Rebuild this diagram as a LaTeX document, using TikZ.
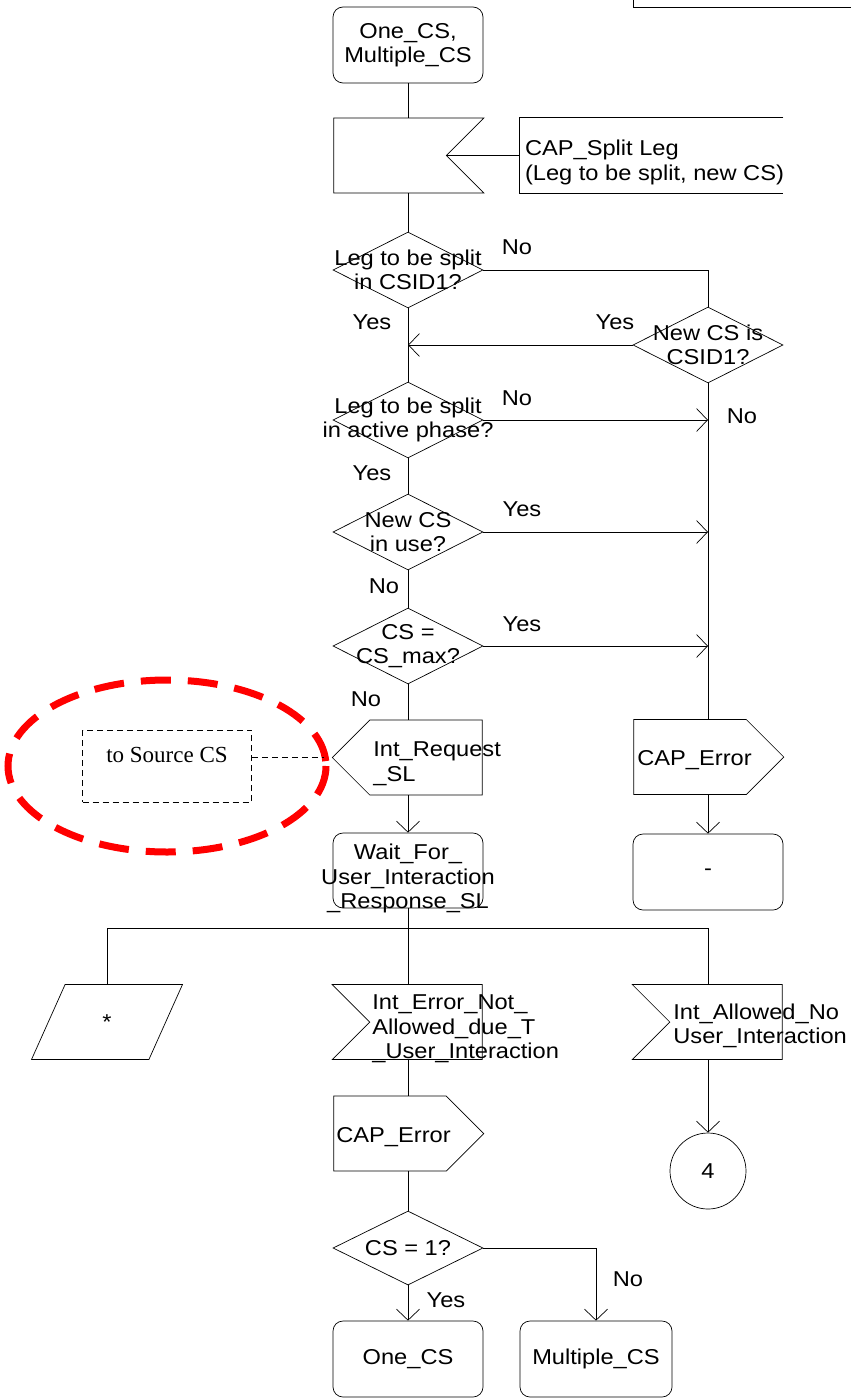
\documentclass[tikz,border=0pt]{standalone}
\usepackage{fontspec}
\setmainfont{Liberation Sans}[FakeStretch=1.1]
\newfontfamily\serifcs{Liberation Serif}
\usetikzlibrary{arrows.meta, positioning, shapes.geometric, shapes.symbols}
\newcommand{\zw}[1]{\makebox[0pt]{#1}}

\begin{document}
\begin{tikzpicture}[x=1pt, y=-1pt, >={Straight Barb[length=11pt, width=23pt]},
  line width=0.7pt,
  every node/.style={font=\fontsize{21.5}{24.5}\selectfont},
  state/.style={rectangle, rounded corners=10pt, draw,
    minimum width=150pt, minimum height=76pt, inner sep=0pt, align=center},
  decision/.style={diamond, draw, minimum width=150pt, minimum height=76pt,
    inner sep=0pt, align=center},
  sigin/.style={signal, draw, signal to=nowhere, signal pointer angle=90,
    minimum width=150pt, minimum height=75pt, inner sep=0pt},
  sigout/.style={signal, draw, signal from=nowhere, signal pointer angle=90,
    minimum width=150pt, minimum height=75pt, inner sep=0pt},
  sigtext/.style={inner sep=0pt, align=left, anchor=west},
  lab/.style={inner sep=0pt, anchor=base},
  dashline/.style={dash pattern=on 6pt off 4pt, line width=0.9pt}]
  \useasboundingbox (0,0) rectangle (851,1399);
  % box cut off at the top
  \draw (633,0) -- (633,7) -- (851,7);
  % Start and split request
  \node[state] (start) at (408,45) {\zw{One\_CS,}\\\zw{Multiple\_CS}};
  \node[sigin, signal from=east] (rcvsplit) at (390,155.5) {};
  \node[inner sep=0pt, minimum width=263pt, minimum height=75pt] (splitbox)
    at (651.5,155.5) {};
  \node[sigtext, xshift=5pt, yshift=-7pt] (splittxt) at (splitbox.west)
    {CAP\_Split Leg\\(Leg to be split, new CS)};
  \draw (splitbox.north east) -- (splitbox.north west)
    -- (splitbox.south west) -- (splitbox.south east);
  % Checks
  \node[decision] (d1) at (408,270) {\zw{Leg to be split}\\\zw{in CSID1?}};
  \node[decision] (d2) at (708,345) {\zw{New CS is}\\\zw{CSID1?}};
  \node[decision] (d3) at (408,420) {\zw{Leg to be split}\\\zw{in active phase?}};
  \node[decision] (d4) at (408,532) {\zw{New CS}\\\zw{in use?}};
  \node[decision] (d5) at (408,646) {\zw{CS =}\\\zw{CS\_max?}};
  % Outputs
  \node[sigout, signal to=west] (intreq) at (426,757.5) {};
  \node[sigtext, xshift=-53pt, yshift=-6pt] (intreqT) at (intreq.center)
    {Int\_Request\\\_SL};
  \node[sigout, signal to=east] (caperr) at (690,757) {};
  \node[sigtext, xshift=-53pt, yshift=-3pt] (caperrT) at (caperr.center) {CAP\_Error};
  \node[draw, dashline, minimum width=169pt, minimum height=72pt, inner sep=0pt,
    text height=17pt, text depth=25pt, font=\serifcs\fontsize{23}{27}\selectfont]
    (srcbox) at (167,766) {to Source CS};
  \draw[red, line width=7pt, dash pattern=on 30pt off 17pt]
    (167,766) ellipse [x radius=159, y radius=86];
  % States
  \node[state, minimum height=75pt] (wait) at (408,870.5) {};
  \node[inner sep=0pt, align=center, yshift=-8pt] (waitT) at (wait.center)
    {\zw{Wait\_For\_}\\\zw{User\_Interaction}\\\zw{\_Response\_SL}};
  \node[state] (dashst) at (708,872) {-};
  % Inputs
  \node[trapezium, trapezium left angle=76, trapezium right angle=104,
    trapezium stretches=true, draw, minimum width=151pt, minimum height=75pt,
    inner sep=0pt] (star) at (107,1022) {*};
  \node[sigin, signal from=west] (interr) at (426,1022) {};
  \node[sigtext, xshift=-54pt, yshift=-7pt] (interrT) at (interr.center)
    {Int\_Error\_Not\_\\Allowed\_due\_T\\\_User\_Interaction};
  \node[sigin, signal from=west] (intallow) at (726,1022) {};
  \node[sigtext, xshift=-53pt, yshift=-4pt] (intallowT) at (intallow.center)
    {Int\_Allowed\_No\\User\_Interaction};
  \node[sigout, signal to=east] (caperr2) at (390,1133.5) {};
  \node[sigtext, xshift=-54pt, yshift=-4pt] (caperr2T) at (caperr2.center) {CAP\_Error};
  \node[decision, minimum height=74pt] (d6) at (408,1248) {\zw{CS = 1?}};
  \node[circle, draw, minimum size=76pt, inner sep=0pt] (conn4) at (708,1171) {4};
  \node[state] (onecs) at (408,1359) {One\_CS};
  \node[state, minimum width=152pt] (multcs) at (596,1359) {\zw{Multiple\_CS}};
  % Connectors
  \draw (start) -- (start |- rcvsplit.north);
  \draw (splitbox) -- (rcvsplit);
  \draw (d1 |- rcvsplit.south) -- (d1);
  \draw (d1.east) -| (d2.north);
  \draw[->] (d2.west) -- (d2.west -| d1.south);
  \draw (d1) -- (d3);
  \draw (d2) -- (d2 |- caperr.north);
  \draw[->] (d3.east) -- (d3.east -| d2.south);
  \draw (d3) -- (d4);
  \draw[->] (d4.east) -- (d4.east -| d2.south);
  \draw (d4) -- (d5);
  \draw[->] (d5.east) -- (d5.east -| d2.south);
  \draw (d5) -- (d5 |- intreq.north);
  \draw[->] (wait |- intreq.south) -- (wait);
  \draw[->] (dashst |- caperr.south) -- (dashst);
  \draw[dashline, shorten >=8pt] (srcbox.east |- intreq.west) -- (intreq.west);
  \coordinate (bus) at (408,928);
  \draw (wait) -- (wait |- interr.north);
  \draw (star.north) |- (bus) -| (conn4 |- intallow.north);
  \draw (d6 |- interr.south) -- (d6 |- caperr2.north);
  \draw (d6 |- caperr2.south) -- (d6);
  \draw[->] (d6) -- (onecs);
  \draw[->] (d6.east) -| (multcs.north);
  \draw[->] (conn4 |- intallow.south) -- (conn4);
  % Branch labels
  \node[lab] (no1) at (517,254) {No};
  \node[lab] (yes1) at (372,329) {Yes};
  \node[lab] (yes2) at (615,329) {Yes};
  \node[lab] (no2) at (517,405) {No};
  \node[lab] (no3) at (742,423) {No};
  \node[lab] (yes3) at (372,480) {Yes};
  \node[lab] (yes4) at (522,516) {Yes};
  \node[lab] (no4) at (384,593) {No};
  \node[lab] (yes5) at (522,631) {Yes};
  \node[lab] (no5) at (366,706) {No};
  \node[lab] (no6) at (628,1286) {No};
  \node[lab] (yes6) at (446,1307) {Yes};
\end{tikzpicture}
\end{document}
